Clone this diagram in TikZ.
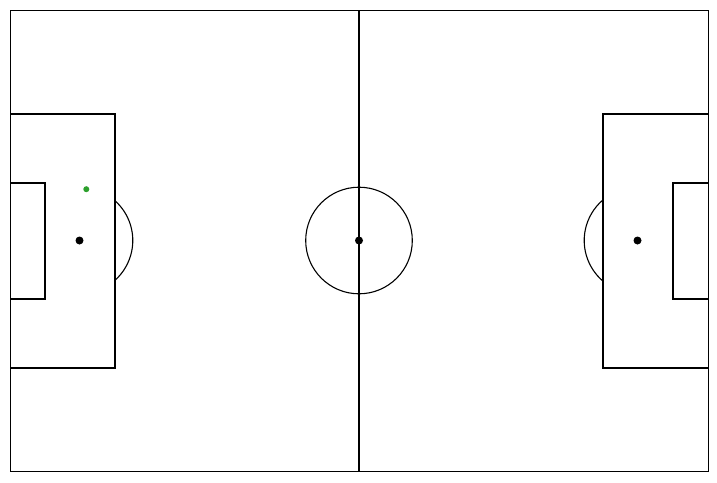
\documentclass[tikz,border=0pt]{standalone}
\begin{document}
\begin{tikzpicture}[x=1pt,y=-1pt,
  thinline/.style={line width=1pt,black},
  thickline/.style={line width=2pt,black},
  circline/.style={line width=1.1pt,black}]
\useasboundingbox[fill=white] (0,0) rectangle (717,482);
% outer boundary
\draw[thinline] (10.5,10.5) rectangle (708,471);
% halfway line
\draw[thickline] (359,10.5) -- (359,471);
% centre circle and spot
\draw[circline] (359,240.5) circle (53.3);
\fill (359,240.5) circle (4);
% left penalty box
\draw[thickline] (10.5,114) -- (115,114) -- (115,367.5) -- (10.5,367.5);
\draw[thickline] (10.5,183) -- (45,183) -- (45,298.5) -- (10.5,298.5);
\fill (79.5,240.5) circle (4);
\draw[circline] (79.5,240.5) ++(-47.9:53.3) arc[start angle=-47.9,end angle=47.9,radius=53.3];
% right penalty box
\draw[thickline] (708,114) -- (603,114) -- (603,367.5) -- (708,367.5);
\draw[thickline] (708,183) -- (673,183) -- (673,298.5) -- (708,298.5);
\fill (637.5,240.5) circle (4);
\draw[circline] (637.5,240.5) ++(131:53.3) arc[start angle=131,end angle=229,radius=53.3];
% green marker
\definecolor{tabgreen}{HTML}{2CA02C}
\fill[tabgreen] (86.3,189.2) circle (3);
\end{tikzpicture}
\end{document}
